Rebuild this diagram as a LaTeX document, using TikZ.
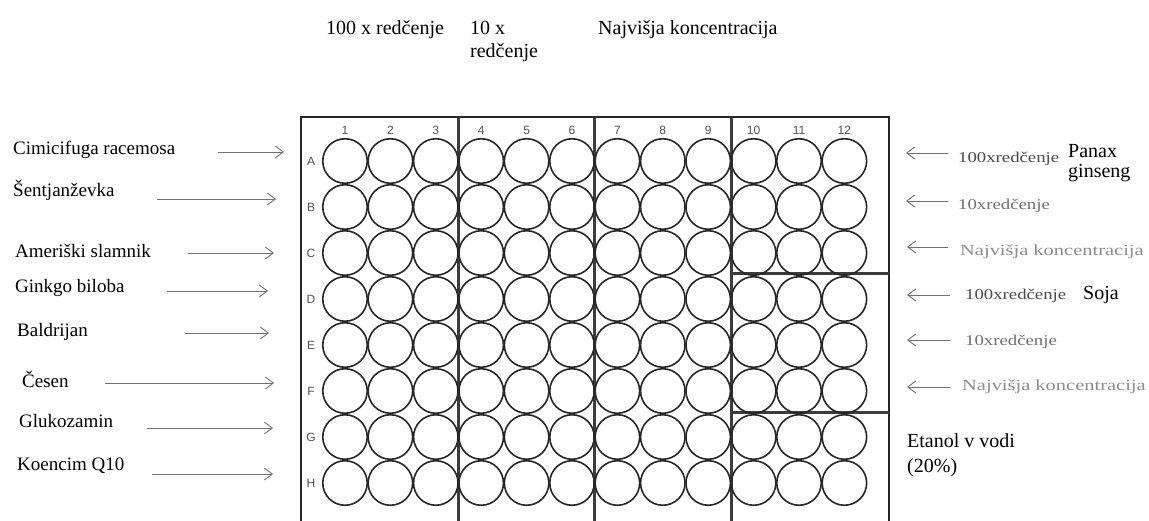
\documentclass[tikz,border=0pt]{standalone}
\usepackage{fontspec}
\setmainfont{Liberation Serif}
\newfontfamily\platefont{Liberation Sans}
\newfontfamily\widefont[FakeStretch=1.25]{Liberation Serif}
\newfontfamily\widerfont[FakeStretch=1.32]{Liberation Serif}
\usetikzlibrary{arrows.meta}
\definecolor{plate}{HTML}{262626}
\definecolor{arrowgray}{HTML}{707070}
\definecolor{note}{HTML}{4A4A4A}
\definecolor{faint}{HTML}{8C8C8C}

\begin{document}
\begin{tikzpicture}[x=1pt, y=-1pt,
  lbl/.style={anchor=base west, inner sep=0pt, font=\fontsize{20}{22}\selectfont},
  side/.style={anchor=base west, inner sep=0pt, font=\fontsize{19}{21}\selectfont},
  small/.style={anchor=base west, inner sep=0pt, font=\widefont\fontsize{15}{17}\selectfont},
  faded/.style={anchor=base west, inner sep=0pt, font=\widerfont\fontsize{15.5}{17}\selectfont, text=faint},
  num/.style={inner sep=0pt, font=\platefont\fontsize{12}{13}\selectfont, text=plate!80},
  well/.style={circle, draw=plate, line width=1.6pt, minimum size=44.5pt, inner sep=0pt},
  divider/.style={draw=plate!90, line width=3pt},
  arr/.style={draw=arrowgray, line width=0.9pt, -{Straight Barb[length=8pt, width=12pt]}}
]
  \useasboundingbox (0,0) rectangle (1149,521);
  % Top labels
  \node[lbl] (top100) at (326,35) {100 x redčenje};
  \node[lbl] (top10) at (470,35) {10 x};
  \node[lbl] (top10b) at (470,58) {redčenje};
  \node[lbl] (topmax) at (598,35) {Najvišja koncentracija};
  % Plate frame and dividers
  \draw[plate, line width=2.4pt] (301,521) -- (301,117) -- (889,117) -- (889,521);
  \foreach \x in {458,594,731}
    \draw[divider] (\x,117) -- (\x,521);
  \draw[divider] (731,274) -- (889,274);
  \draw[divider] (731,412) -- (889,412);
  % Wells, column numbers and row letters
  \foreach \c in {1,...,12}
    \node[num] (n\c) at ({345+45.4*(\c-1)},130) {\c};
  \foreach \r [count=\i] in {A,...,H} {
    \node[num] (r\r) at (311,{161+46*(\i-1)}) {\r};
    \foreach \c in {1,...,12}
      \node[well] (w\r\c) at ({345+45.4*(\c-1)},{161+46*(\i-1)}) {};
  }
  % Samples on the left
  \node[side] (cimi) at (13,155) {Cimicifuga racemosa};
  \node[side] (sent) at (13,197) {Šentjanževka};
  \node[side] (amer) at (15,258) {Ameriški slamnik};
  \node[side] (gink) at (15,293) {Ginkgo biloba};
  \node[side] (bald) at (17,337) {Baldrijan};
  \node[side] (cese) at (22,388) {Česen};
  \node[side] (gluk) at (19,427) {Glukozamin};
  \node[side] (koen) at (17,470) {Koencim Q10};
  \coordinate (tA) at (218,152); \coordinate (hA) at (284,152);
  \coordinate (tB) at (157,199); \coordinate (hB) at (276,199);
  \coordinate (tC) at (188,253); \coordinate (hC) at (274,253);
  \coordinate (tD) at (167,291); \coordinate (hD) at (268,291);
  \coordinate (tE) at (185,333); \coordinate (hE) at (269,333);
  \coordinate (tF) at (105,383); \coordinate (hF) at (274,383);
  \coordinate (tG) at (147,428); \coordinate (hG) at (273,428);
  \coordinate (tH) at (152,474); \coordinate (hH) at (273,474);
  \foreach \r in {A,...,H}
    \draw[arr] (t\r) -- (h\r);
  % Samples on the right
  \node[small, text=note] (pa100) at (958,163) {100xredčenje};
  \node[lbl] (panax) at (1068,158) {Panax};
  \node[lbl] (gins) at (1068,178) {ginseng};
  \node[small, text=note!80] (pa10) at (958,210) {10xredčenje};
  \node[faded] (pamax) at (960,256) {Najvišja koncentracija};
  \node[small, text=note] (so100) at (965,300) {100xredčenje};
  \node[lbl] (soja) at (1083,300) {Soja};
  \node[small, text=note!80] (so10) at (965,345) {10xredčenje};
  \node[faded] (somax) at (962,391) {Najvišja koncentracija};
  \node[lbl] (etan) at (907,447) {Etanol v vodi};
  \node[lbl] (etpc) at (907,472) {(20\%)};
  \coordinate (sA) at (948,153); \coordinate (eA) at (906,153);
  \coordinate (sB) at (948,201); \coordinate (eB) at (906,201);
  \coordinate (sC) at (948,247); \coordinate (eC) at (907,247);
  \coordinate (sD) at (950,295); \coordinate (eD) at (907,295);
  \coordinate (sE) at (950,340); \coordinate (eE) at (907,340);
  \coordinate (sF) at (950,387); \coordinate (eF) at (907,387);
  \foreach \r in {A,...,F}
    \draw[arr] (s\r) -- (e\r);
\end{tikzpicture}
\end{document}
